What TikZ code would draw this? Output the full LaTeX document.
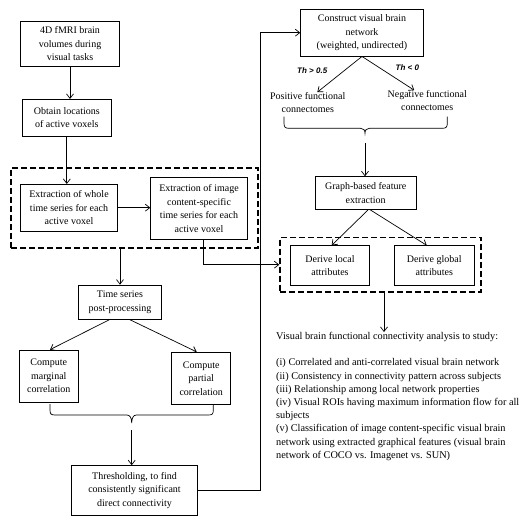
\documentclass[tikz,border=0pt]{standalone}
\usepackage{fontspec}
\setmainfont{Liberation Serif}
\newfontfamily\thfont{Liberation Sans}
\usetikzlibrary{arrows.meta,calc}
\begin{document}
\begin{tikzpicture}[x=1pt,y=-1pt,
  box/.style={draw,line width=0.8pt,align=center,inner sep=0pt,font=\fontsize{10}{13.5}\selectfont},
  lbl/.style={align=center,inner sep=0pt,font=\fontsize{10}{12.7}\selectfont},
  thl/.style={inner sep=0pt,font=\thfont\fontsize{8}{9}\selectfont\bfseries\itshape},
  arr/.style={-{Straight Barb[length=4.5pt,width=7pt]},line width=0.7pt},
  brc/.style={line width=0.7pt},
  dbox/.style={draw,line width=1.4pt,dash pattern=on 6pt off 3pt,inner sep=0pt}]
\useasboundingbox (0,0) rectangle (525,522);

% left column
\node[box,minimum width=98.6pt,minimum height=44.3pt] (b1) at (70,43.8) {4D fMRI brain\\volumes during\\visual tasks};
\node[box,minimum width=89pt,minimum height=36.7pt] (b2) at (66.8,117.7) {Obtain locations\\of active voxels};
\node[dbox,minimum width=247pt,minimum height=80pt] (d1) at (134.5,208) {};
\node[box,minimum width=96.6pt,minimum height=46.7pt] (b3) at (69,207.7) {Extraction of whole\\time series for each\\active voxel};
\node[box,minimum width=96.6pt,minimum height=62pt] (b4) at (199,208.3) {Extraction of image\\content-specific\\time series for each\\active voxel};
\node[box,minimum width=83.4pt,minimum height=34.3pt] (ts) at (120,302.2) {Time series\\post-processing};
\node[box,minimum width=59pt,minimum height=52.3pt] (mar) at (48.8,376.2) {Compute\\marginal\\correlation};
\node[box,minimum width=59pt,minimum height=52pt] (par) at (201.2,378.3) {Compute\\partial\\correlation};
\node[box,minimum width=125.6pt,minimum height=49.3pt] (thr) at (134.5,490.3) {Thresholding, to find\\consistently significant\\direct connectivity};

% right column
\node[box,minimum width=122.6pt,minimum height=46.7pt] (con) at (362,32.7) {Construct visual brain\\network\\(weighted, undirected)};
\node[lbl] (pos) at (307.8,102.3) {Positive functional\\connectomes};
\node[lbl] (neg) at (427.2,100.3) {Negative functional\\connectomes};
\node[thl] (th1) at (312.2,70.7) {Th > 0.5};
\node[thl] (th2) at (407.3,67.7) {Th < 0};
\node[box,minimum width=100.7pt,minimum height=32.6pt] (gb) at (365.7,193) {Graph-based feature\\extraction};
\node[dbox,minimum width=201pt,minimum height=54.7pt] (d2) at (380.5,264.7) {};
\node[box,minimum width=78.6pt,minimum height=39.6pt] (loc) at (330,265.5) {Derive local\\attributes};
\node[box,minimum width=80pt,minimum height=39.6pt] (glo) at (434.3,265.5) {Derive global\\attributes};
\node[anchor=north west,align=left,inner sep=0pt,font=\fontsize{10.3}{13.2}\selectfont] (an) at (276,332) {Visual brain functional connectivity analysis to study:\\[13.2pt]
(i) Correlated and anti-correlated visual brain network\\
(ii) Consistency in connectivity pattern across subjects\\
(iii) Relationship among local network properties\\
(iv) Visual ROIs having maximum information flow for all\\
subjects\\
(v) Classification of image content-specific visual brain\\
network using extracted graphical features (visual brain\\
network of COCO vs. Imagenet vs. SUN)};

% connectors left
\draw[arr] (b1.south) -- (b1.south |- b2.north);
\draw[arr] (b2.south) -- (b2.south |- b3.north);
\draw[arr] (b3.east) -- (b3.east -| b4.west);
\draw[arr] (ts.north |- d1.south) -- (ts.north);
\draw[arr] ([xshift=4.3pt]b4.south) |- (d2.west);
\draw[arr] ([xshift=-10.7pt]ts.south) -- ([xshift=1.2pt]mar.north);
\draw[arr] ([xshift=10pt]ts.south) -- ([xshift=-4.5pt]par.north);
\draw[brc] (50,404) -- (50,410) .. controls (50,414) and (51,415) .. (55,415) -- (127,415)
  .. controls (130,415) and (131.7,418) .. (131.7,423)
  .. controls (131.7,418) and (133.4,415) .. (136.4,415) -- (208.3,415)
  .. controls (212.3,415) and (213.3,414) .. (213.3,410) -- (213.3,404);
\coordinate (t1) at (131.7,430);
\draw[arr] (t1) -- (t1 |- thr.north);
\coordinate (rail) at (260.5,0);
\draw[arr] (thr.east) -| (rail |- con.west) -- (con.west);

% connectors right
\draw[arr] (con.south) -- ([xshift=9.5pt]pos.north);
\draw[arr] (con.south) -- ([xshift=-13pt]neg.north);
\draw[brc] (284,116.7) -- (284,123) .. controls (284,127) and (285,128.3) .. (289,128.3) -- (360.5,128.3)
  .. controls (363.5,128.3) and (365,130) .. (365,133.3)
  .. controls (365,130) and (366.5,128.3) .. (369.5,128.3) -- (442.3,128.3)
  .. controls (446.3,128.3) and (447.3,127) .. (447.3,123) -- (447.3,116.7);
\coordinate (t2) at (365,143.3);
\draw[arr] (t2) -- (t2 |- gb.north);
\draw[arr] ([xshift=2.6pt]gb.south) -- ([xshift=1.7pt]loc.north);
\draw[arr] ([xshift=4.3pt]gb.south) -- ([xshift=-7.6pt]glo.north);
\coordinate (t3) at (384,0);
\draw[arr] (t3 |- d2.south) -- (t3 |- an.north);
\end{tikzpicture}
\end{document}
